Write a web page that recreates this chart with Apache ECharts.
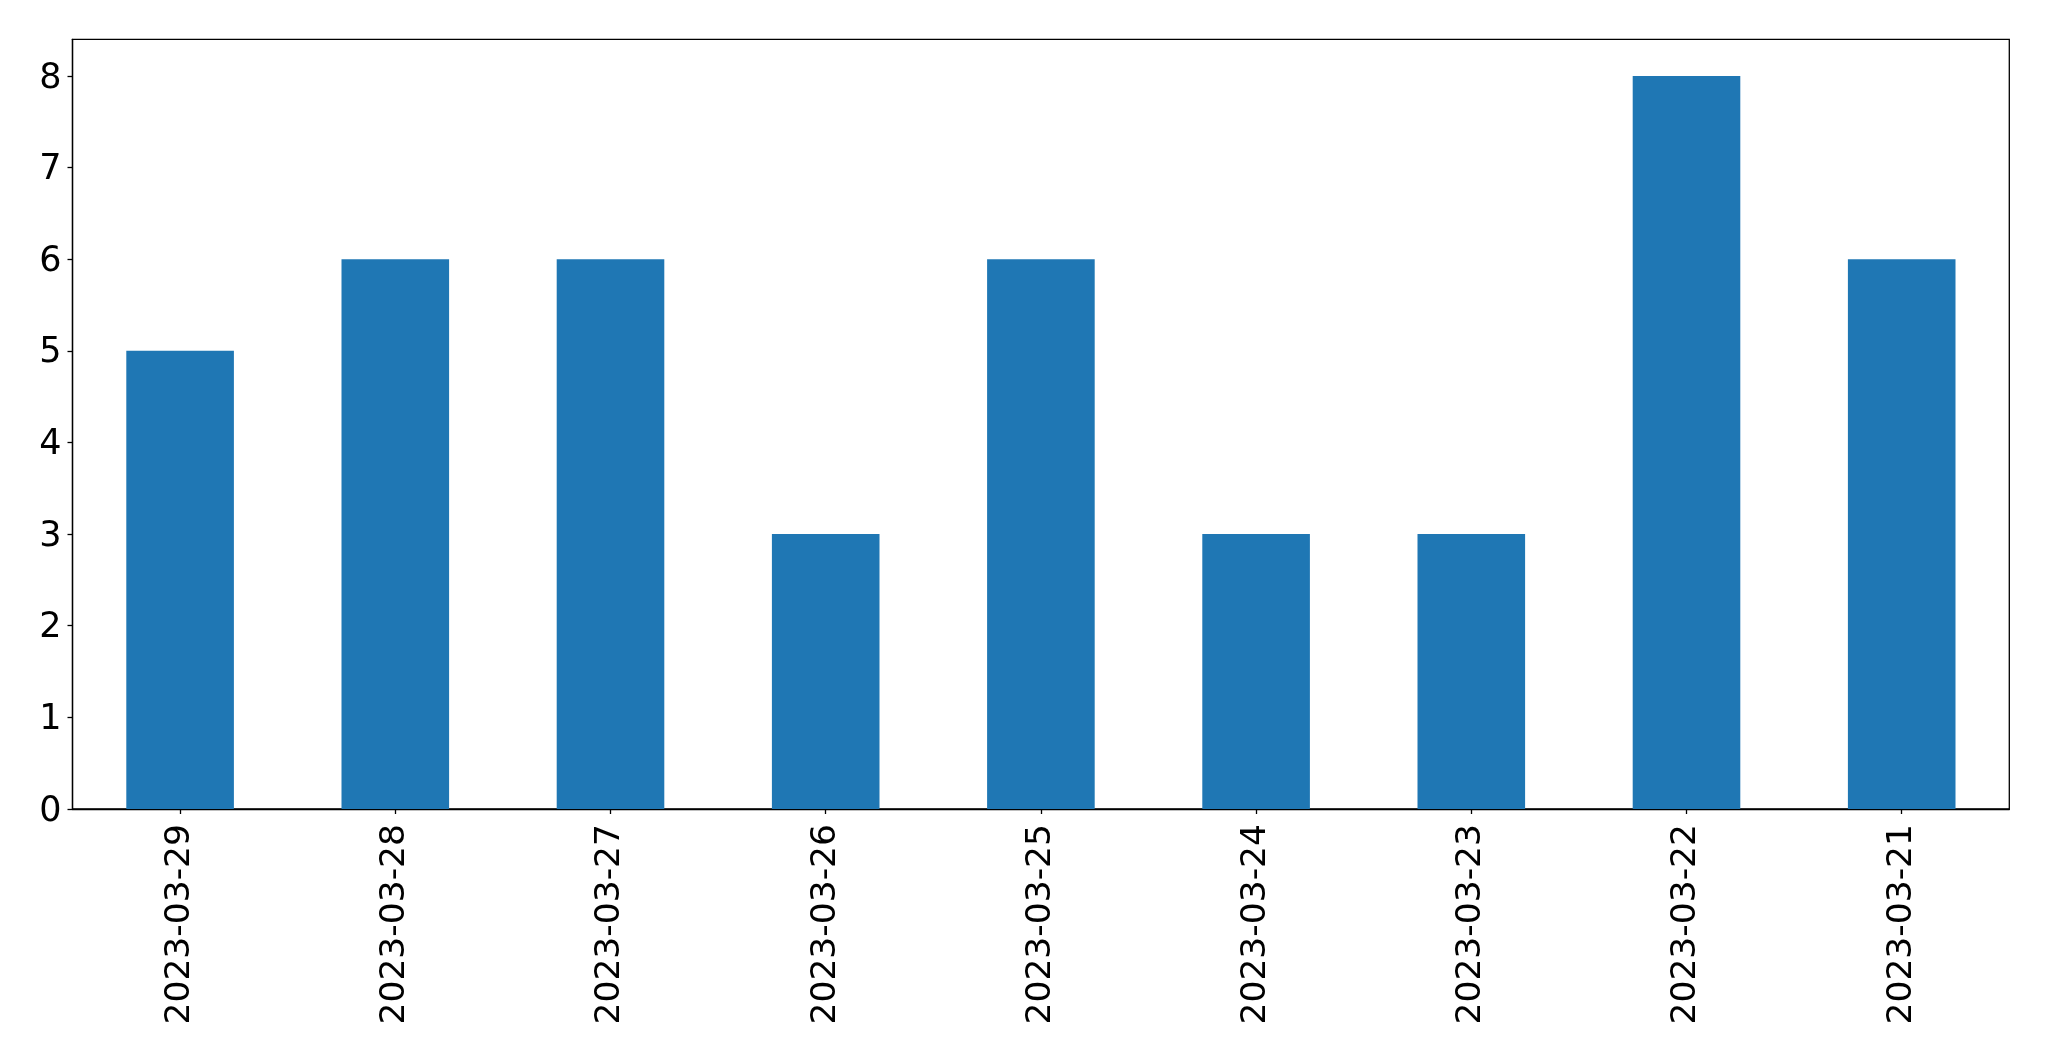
<!DOCTYPE html>
<html>
<head>
<meta charset="utf-8">
<script src="https://cdn.jsdelivr.net/npm/echarts@6/dist/echarts.min.js"></script>
<style>
html,body{margin:0;padding:0;background:#fff;}
#chart{width:2049px;height:1061px;}
</style>
</head>
<body>
<div id="chart"></div>
<script>
const categories = ['2023-03-29','2023-03-28','2023-03-27','2023-03-26','2023-03-25','2023-03-24','2023-03-23','2023-03-22','2023-03-21'];
const values = [5, 6, 6, 3, 6, 3, 3, 8, 6];
const yTicks = [0, 1, 2, 3, 4, 5, 6, 7, 8];

const chart = echarts.init(document.getElementById('chart'), null, {renderer: 'canvas'});
const font = 'DejaVu Sans';
chart.setOption({
  animation: false,
  backgroundColor: '#ffffff',
  grid: {
    left: 72.5, right: 39.7, top: 39.3, bottom: 252,
    show: true, borderColor: '#000', borderWidth: 1.3, backgroundColor: 'transparent'
  },
  xAxis: {
    type: 'category',
    data: categories,
    boundaryGap: true,
    axisLine: {show: true, lineStyle: {color: '#000', width: 1.3}},
    axisTick: {show: true, alignWithLabel: true, length: 5, lineStyle: {color: '#000', width: 1.3}},
    axisLabel: {rotate: 90, fontFamily: font, fontSize: 34.5, color: '#000', margin: 15, interval: 0},
    splitLine: {show: false}
  },
  yAxis: {
    type: 'value',
    min: 0, max: 8.4, interval: 1,
    axisLine: {show: true, lineStyle: {color: '#000', width: 1.3}},
    axisTick: {show: true, length: 5, customValues: yTicks, lineStyle: {color: '#000', width: 1.3}},
    axisLabel: {
      fontFamily: font, fontSize: 35, color: '#000', margin: 11,
      customValues: yTicks,
      formatter: function (v) { return '{a|' + v + '}'; },
      rich: {a: {fontFamily: font, fontSize: 35, color: '#000', padding: [5, 0, 0, 0]}}
    },
    splitLine: {show: false}
  },
  series: [{
    type: 'bar',
    data: values,
    barWidth: '50%',
    itemStyle: {color: '#1f77b4'}
  }]
});
</script>
</body>
</html>
